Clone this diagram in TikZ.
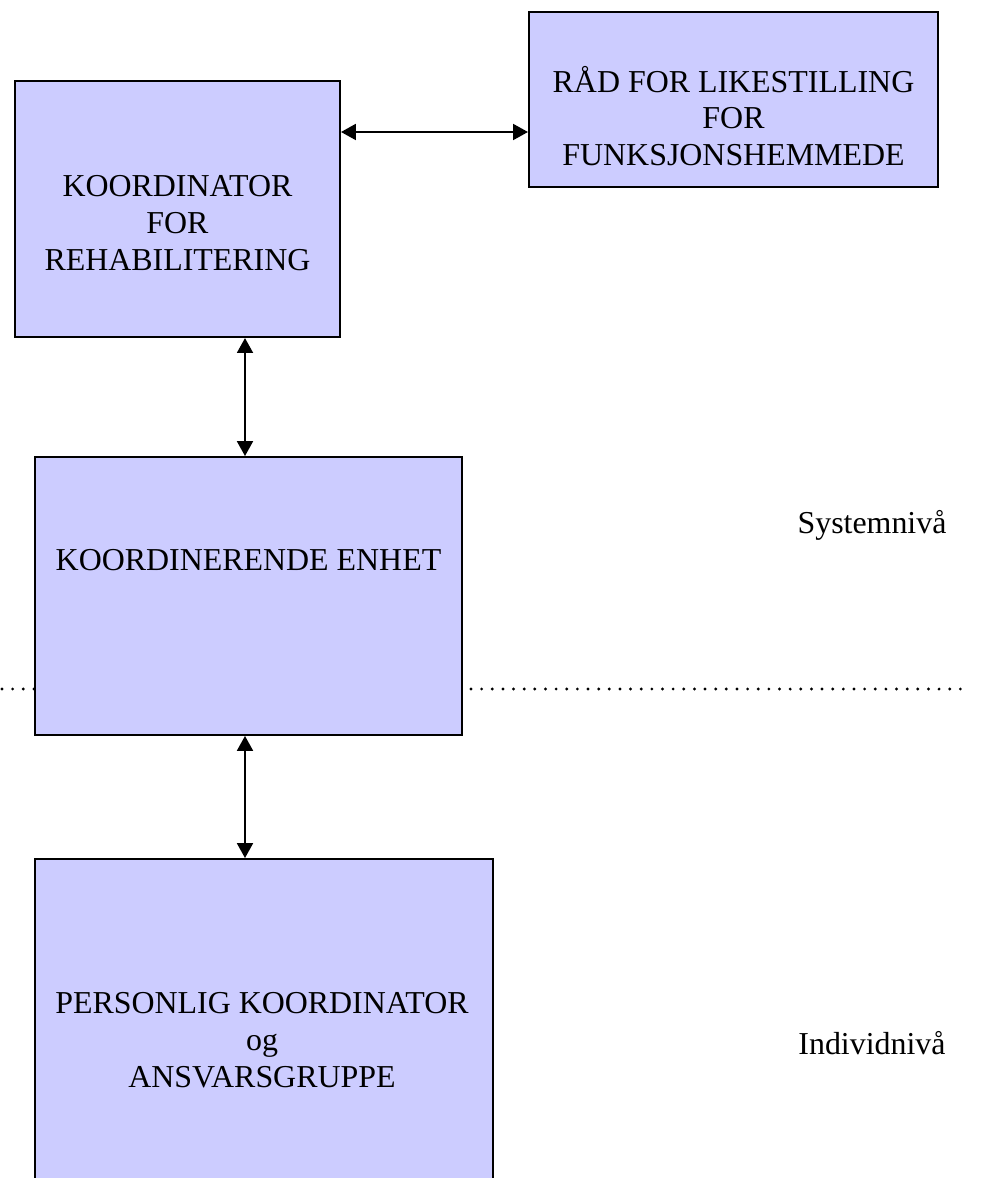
\documentclass[tikz,border=0pt]{standalone}
\usepackage{fontspec}
\setmainfont{Liberation Serif}
\usetikzlibrary{arrows.meta}
\definecolor{boxblue}{RGB}{204,204,255}

\begin{document}
\begin{tikzpicture}[x=0.376pt,y=-0.376pt,
  box/.style={draw=black,line width=0.75pt,fill=boxblue,inner sep=0pt},
  txt/.style={font=\fontsize{12}{13.8}\selectfont,align=center,inner sep=0pt},
  link/.style={line width=0.75pt,{Triangle[length=5.6pt,width=6pt]}-{Triangle[length=5.6pt,width=6pt]}},
  dots/.style={line width=1.2pt,line cap=round,dash pattern=on 0pt off 4pt}]
\useasboundingbox (0,0) rectangle (983,1178);
\clip (0,0) rectangle (983,1178);
\node[box,minimum width=153.8pt,minimum height=65.8pt] (raad) at (733.5,99.5) {};
\node[box,minimum width=122.2pt,minimum height=96.3pt] (koord) at (177.5,209) {};
\node[box,minimum width=160.6pt,minimum height=104.5pt] (enhet) at (248.5,596) {};
\node[box,minimum width=172.2pt,minimum height=128.2pt] (person) at (264,1029.5) {};
\node[txt] (raadtxt) at (733.5,116) {RÅD FOR LIKESTILLING\\FOR\\FUNKSJONSHEMMEDE};
\node[txt] (koordtxt) at (177.5,223) {KOORDINATOR\\FOR\\REHABILITERING};
\node[txt] (enhettxt) at (248.5,560) {KOORDINERENDE ENHET};
\node[txt] (persontxt) at (262,1040) {PERSONLIG KOORDINATOR\\og\\ANSVARSGRUPPE};
\node[txt] (system) at (872,525) {Systemnivå};
\node[txt] (individ) at (872,1043) {Individnivå};
\draw[link] (koord.east |- 0,132) -- (raad.west |- 0,132);
\draw[link] (koord.south -| 245,0) -- (enhet.north -| 245,0);
\draw[link] (enhet.south -| 245,0) -- (person.north -| 245,0);
\draw[dots] (2,689) -- (enhet.west |- 0,689);
\draw[dots] (471,689) -- (965,689);
\end{tikzpicture}
\end{document}
